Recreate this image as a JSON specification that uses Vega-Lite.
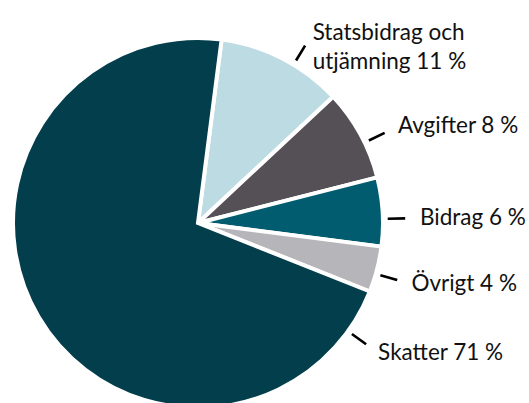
{
  "$schema": "https://vega.github.io/schema/vega-lite/v6.json",
  "width": 376,
  "height": 436,
  "padding": 5,
  "background": "white",
  "config": {"view": {"stroke": null}},
  "data": {
    "values": [
      {"kategori": "Statsbidrag och\nutjämning", "andel": 11, "ord": 1},
      {"kategori": "Avgifter", "andel": 8, "ord": 2},
      {"kategori": "Bidrag", "andel": 6, "ord": 3},
      {"kategori": "Övrigt", "andel": 4, "ord": 4},
      {"kategori": "Skatter", "andel": 71, "ord": 5}
    ]
  },
  "transform": [
    {"window": [{"op": "sum", "field": "andel", "as": "cum"}], "sort": [{"field": "ord"}]},
    {"calculate": "datum.cum - datum.andel", "as": "start"},
    {"calculate": "datum.start + (datum.andel > 50 ? 3.9 : datum.andel * 0.6)", "as": "labelT"},
    {"calculate": "datum.labelT + 0.01", "as": "labelT2"},
    {"calculate": "datum.kategori + ' ' + datum.andel + ' %'", "as": "label"}
  ],
  "layer": [
    {
      "mark": {"type": "arc", "radius": 185, "stroke": "white", "strokeWidth": 4},
      "encoding": {
        "theta": {"field": "andel", "type": "quantitative", "stack": true, "scale": {"domain": [0, 100], "range": [0.128, 6.4112]}},
        "order": {"field": "ord", "type": "quantitative"},
        "color": {
          "field": "kategori",
          "type": "nominal",
          "scale": {
            "domain": ["Statsbidrag och\nutjämning", "Avgifter", "Bidrag", "Övrigt", "Skatter"],
            "range": ["#BDDBE2", "#554F56", "#005C6E", "#B6B5B9", "#023E4B"]
          },
          "legend": null
        }
      }
    },
    {
      "mark": {"type": "arc", "radius": 206, "radius2": 191, "fill": "black", "stroke": "black", "strokeWidth": 2.5},
      "encoding": {
        "theta": {"field": "labelT", "type": "quantitative", "stack": false, "scale": {"domain": [0, 100], "range": [0.128, 6.4112]}},
        "theta2": {"field": "labelT2"}
      }
    },
    {
      "mark": {"type": "text", "radius": 222, "align": "left", "baseline": "middle", "font": "Lato", "fontSize": 22.5, "lineBreak": "\n", "lineHeight": 29, "color": "#111111"},
      "encoding": {
        "theta": {"field": "labelT", "type": "quantitative", "stack": false, "scale": {"domain": [0, 100], "range": [0.128, 6.4112]}},
        "text": {"field": "label", "type": "nominal"}
      }
    }
  ]
}
